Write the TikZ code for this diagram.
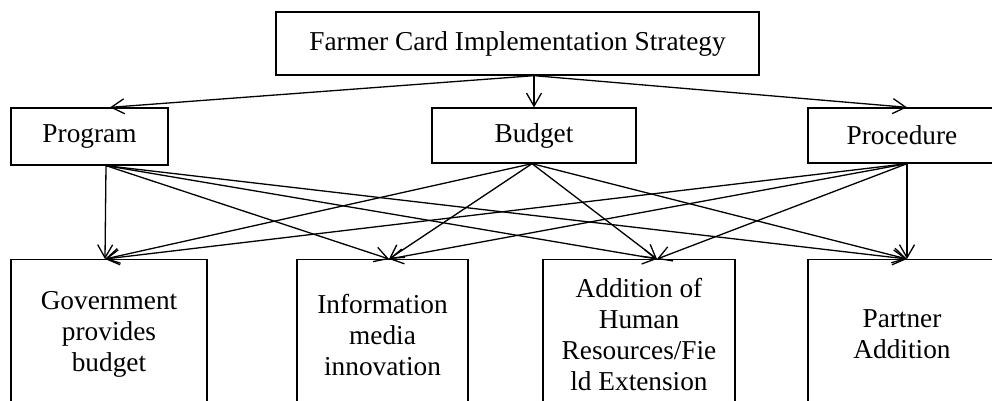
\documentclass[tikz,border=0pt]{standalone}
\usepackage{fontspec}
\setmainfont{Liberation Serif}
\usetikzlibrary{arrows.meta}

\begin{document}
\begin{tikzpicture}[x=1pt,y=-1pt,line width=1.3pt,
	font=\fontsize{27.3}{31}\selectfont,
	box/.style={draw,inner sep=0pt,align=center},
	low/.style={box,anchor=north,minimum height=150pt},
	arr/.style={-{Straight Barb[length=13pt,width=15pt]}}]
	\useasboundingbox (0,0) rectangle (992,400);
	
	% strategy and its three parts
	\node[box,minimum width=483pt,minimum height=63pt] (strat) at (517.5,43.5) {Farmer Card Implementation Strategy};
	\node[box,minimum width=157pt,minimum height=57pt] (prog) at (89.5,136.5) {Program};
	\node[box,minimum width=204pt,minimum height=55pt] (budg) at (534,135.5) {Budget};
	\node[box,minimum width=188pt,minimum height=55pt] (proc) at (902,135.5) {Procedure};
	
	% outcomes
	\node[low,minimum width=196pt] (gov) at (109,259) {Government\\provides\\budget};
	\node[low,minimum width=171pt] (info) at (382.5,259) {Information\\media\\innovation};
	\node[low,minimum width=192pt] (hr) at (639,259) {Addition of\\Human\\Resources/Fie\\ld Extension};
	\node[low,minimum width=188pt] (part) at (902,259) {Partner\\Addition};
	
	\foreach \t/\dx in {prog/20.5,budg/0,proc/5}
	\draw[arr] (strat.south -| budg.north) -- ([xshift=\dx]\t.north);
	
	\foreach \s/\a in {prog/16.5,budg/-2,proc/5}{
		\foreach \t/\b in {gov/-4,info/6.5,hr/18,part/5}
		\draw[arr] ([xshift=\a]\s.south) -- ([xshift=\b]\t.north);}
\end{tikzpicture}
\end{document}
